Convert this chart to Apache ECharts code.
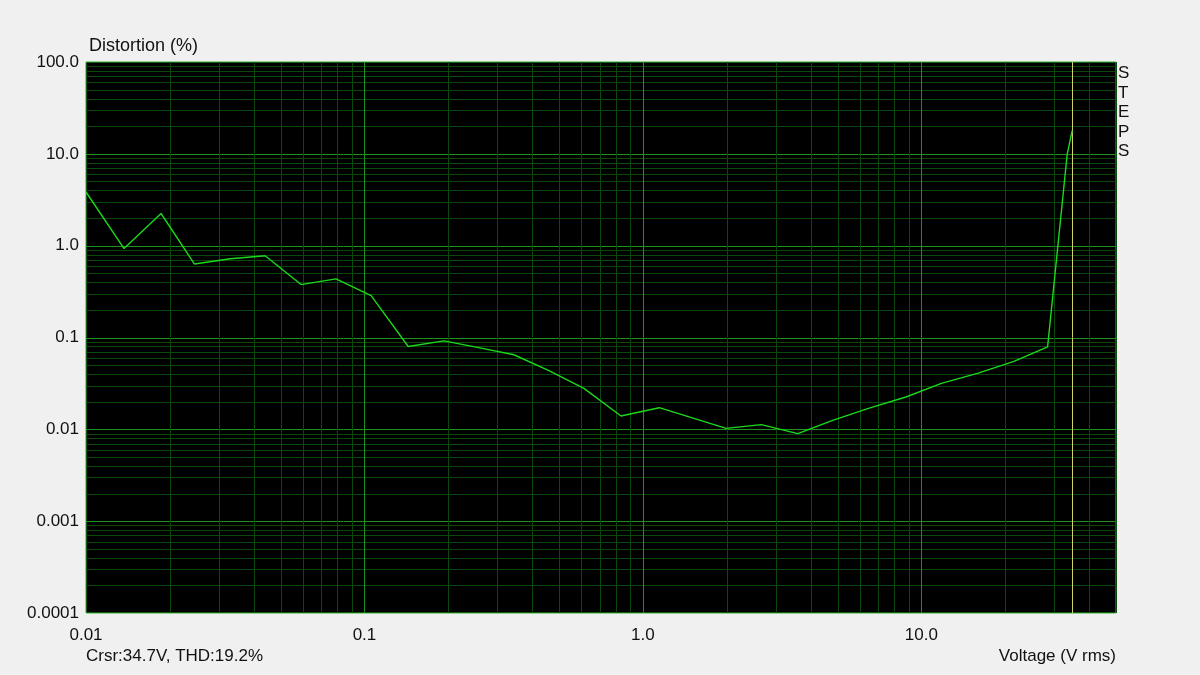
<!DOCTYPE html>
<html>
<head>
<meta charset="utf-8">
<script src="https://cdn.jsdelivr.net/npm/echarts@6/dist/echarts.min.js"></script>
<style>
html,body{margin:0;padding:0;background:#f0f0f0;}
#c{width:1200px;height:675px;}
</style>
</head>
<body>
<div id="c"></div>
<script>
// Data
const voltage = [0.01, 0.0137, 0.0186, 0.0245, 0.033, 0.044, 0.0592, 0.079, 0.1057, 0.1436, 0.193, 0.26, 0.344, 0.46, 0.614, 0.834, 1.145, 1.99, 2.66, 3.6, 4.8, 6.5, 8.8, 11.8, 16, 21.5, 28.4, 33.4, 34.8];
const distortion = [3.84, 0.93, 2.24, 0.632, 0.72, 0.778, 0.377, 0.435, 0.286, 0.0798, 0.092, 0.077, 0.0649, 0.0437, 0.0279, 0.01395, 0.0172, 0.01025, 0.01125, 0.00898, 0.0125, 0.017, 0.0225, 0.0316, 0.041, 0.055, 0.0792, 9.93, 17.9];
const xTickValues = [0.01, 0.1, 1, 10];
const xTickLabels = ['0.01', '0.1', '1.0', '10.0'];
const yTickValues = [0.0001, 0.001, 0.01, 0.1, 1, 10, 100];
const yTickLabels = ['0.0001', '0.001', '0.01', '0.1', '1.0', '10.0', '100.0'];
const xMinorGrid = [0.02,0.03,0.04,0.05,0.06,0.07,0.08,0.09,0.2,0.3,0.4,0.5,0.6,0.7,0.8,0.9,2,3,4,5,6,7,8,9,20,30,40,50];
const yMinorGrid = [0.0002,0.0003,0.0004,0.0005,0.0006,0.0007,0.0008,0.0009,0.002,0.003,0.004,0.005,0.006,0.007,0.008,0.009,0.02,0.03,0.04,0.05,0.06,0.07,0.08,0.09,0.2,0.3,0.4,0.5,0.6,0.7,0.8,0.9,2,3,4,5,6,7,8,9,20,30,40,50,60,70,80,90];
const cursorVoltage = 34.7;
const cursorTHD = 19.2;

const FONT = '"Liberation Sans", Arial, sans-serif';
const MINOR = '#0b480b', MAJOR = '#1c931c', CURSOR = '#d2d26a';
function lab(vals, labels) {
  return function (v) {
    for (let i = 0; i < vals.length; i++) {
      if (Math.abs(Math.log10(v) - Math.log10(vals[i])) < 1e-6) return labels[i];
    }
    return '';
  };
}
// grid-line records: [value, colour]
const vLines = xMinorGrid.map(v => [v, MINOR])
  .concat(xTickValues.slice(1).map(v => [v, MAJOR]))
  .concat([[cursorVoltage, CURSOR]]);
const hLines = yMinorGrid.map(v => [v, MINOR])
  .concat(yTickValues.slice(1, -1).map(v => [v, MAJOR]));

function vRender(params, api) {
  const cs = params.coordSys;
  const v = vLines[params.dataIndex];
  const x = Math.round(api.coord([v[0], 1])[0]) + 0.5;
  return {type: 'line', shape: {x1: x, y1: cs.y, x2: x, y2: cs.y + cs.height},
          style: {stroke: v[1], lineWidth: 1}, silent: true};
}
function hRender(params, api) {
  const cs = params.coordSys;
  const v = hLines[params.dataIndex];
  const y = Math.round(api.coord([1, v[0]])[1]) + 0.5;
  return {type: 'line', shape: {x1: cs.x, y1: y, x2: cs.x + cs.width, y2: y},
          style: {stroke: v[1], lineWidth: 1}, silent: true};
}

const chart = echarts.init(document.getElementById('c'), null, {renderer: 'canvas'});
chart.setOption({
  backgroundColor: '#f0f0f0',
  animation: false,
  title: [
    {text: 'Distortion (%)', left: 84, top: 32, textStyle: {fontFamily: FONT, fontSize: 18, fontWeight: 'normal', color: '#111'}},
    {text: 'Crsr:' + cursorVoltage + 'V, THD:' + cursorTHD + '%', left: 81, top: 643, textStyle: {fontFamily: FONT, fontSize: 17, fontWeight: 'normal', color: '#111'}},
    {text: 'Voltage (V rms)', right: 79, top: 643, textStyle: {fontFamily: FONT, fontSize: 17, fontWeight: 'normal', color: '#111'}},
    {text: 'S\nT\nE\nP\nS', left: 1113, top: 59, textStyle: {fontFamily: FONT, fontSize: 17, fontWeight: 'normal', color: '#111', lineHeight: 19.4}}
  ],
  grid: {left: 86, top: 62, right: 84, bottom: 62, show: true, backgroundColor: '#000', borderColor: '#2cb82c', borderWidth: 1},
  xAxis: {
    type: 'log', logBase: 10, min: 0.01, max: 50,
    axisLine: {show: false}, axisTick: {show: false},
    axisLabel: {formatter: lab(xTickValues, xTickLabels), fontFamily: FONT, fontSize: 17, color: '#111', margin: 14, showMaxLabel: false},
    splitLine: {show: false}
  },
  yAxis: {
    type: 'log', logBase: 10, min: 0.0001, max: 100,
    axisLine: {show: false}, axisTick: {show: false},
    axisLabel: {formatter: lab(yTickValues, yTickLabels), fontFamily: FONT, fontSize: 17, color: '#111', margin: 7},
    splitLine: {show: false}
  },
  series: [
    {type: 'custom', z: 1, silent: true, renderItem: hRender, data: hLines.map(r => [1, r[0]]), encode: {x: 0, y: 1}},
    {type: 'custom', z: 2, silent: true, renderItem: vRender, data: vLines.map(r => [r[0], 1]), encode: {x: 0, y: 1}},
    {
      type: 'line', z: 4, showSymbol: false, symbol: 'none',
      lineStyle: {color: '#1cd81c', width: 1.4},
      data: voltage.map((v, i) => [v, distortion[i]])
    }
  ]
});
</script>
</body>
</html>
